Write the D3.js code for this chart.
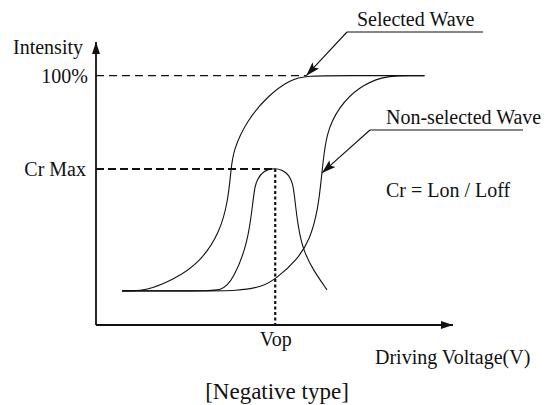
<!DOCTYPE html>
<html>
<head>
<meta charset="utf-8">
<script src="https://cdn.jsdelivr.net/npm/d3@7"></script>
<style>
  html, body { margin: 0; padding: 0; background: #fff; }
  svg text { font-family: "Liberation Serif", "Times New Roman", serif; fill: #111; }
</style>
</head>
<body>
<svg id="chart" width="552" height="405"></svg>
<script>
// ---- Data (schematic units: voltage 0..100, intensity 0..113.5) ----
const selectedWaveV = [7.3, 10.0, 13.7, 21.6, 29.1, 34.7, 37.0, 37.8, 38.4, 42.3, 47.9, 54.3, 59.0, 70.0, 92.0];
const selectedWaveI = [13.7, 13.7, 13.7, 18.0, 25.0, 37.0, 50.0, 62.0, 70.0, 82.0, 91.6, 98.4, 100, 100, 100];

const nonSelectedWaveV = [7.3, 30.0, 39.5, 46.8, 50.7, 56.3, 59.9, 62.2, 63.3, 64.4, 68.1, 73.7, 80.4, 84.9, 88.0, 92.0];
const nonSelectedWaveI = [13.7, 13.7, 13.7, 15.3, 18.9, 26.1, 34.1, 46.2, 61.0, 77.1, 87.6, 95.6, 99.6, 100, 100, 100];

const contrastV = [7.3, 30.0, 35.3, 38.4, 42.6, 44.0, 44.5, 45.1, 46.8, 50.2, 53.5, 55.2, 55.7, 56.6, 58.0, 60.8, 64.7];
const contrastI = [13.7, 13.7, 13.7, 18.1, 32.9, 50.2, 55.4, 58.2, 61.8, 63.2, 61.4, 57.0, 50.2, 39.4, 30.1, 22.1, 14.1];

const yTickValues = [100, 62.6];
const yTickLabels = ["100%", "Cr Max"];
const xTickValues = [50.2];
const xTickLabels = ["Vop"];
const vop = 50.2, crMax = 62.6;
const fullIntensityV = 58.9;   // where the selected wave reaches 100%

const annotationLabels = ["Selected Wave", "Non-selected Wave"];
const annotationTargetV = [58.9, 63.3];
const annotationTargetI = [100, 61.0];

const yAxisTitle = "Intensity";
const xAxisTitle = "Driving Voltage(V)";
const formulaText = "Cr = Lon / Loff";
const captionText = "[Negative type]";

// ---- Scales ----
const svg = d3.select("#chart");
const x = d3.scaleLinear().domain([0, 100]).range([96, 453]);
const y = d3.scaleLinear().domain([0, 113.5]).range([325, 42]);

const defs = svg.append("defs");
defs.append("marker").attr("id", "arrow")
  .attr("viewBox", "-14 -6 16 12").attr("refX", 0).attr("refY", 0)
  .attr("markerUnits", "userSpaceOnUse")
  .attr("markerWidth", 16).attr("markerHeight", 12)
  .attr("orient", "auto")
  .append("path").attr("d", "M0,0L-14,-4.5L-11,0L-14,4.5Z").attr("fill", "#111");
defs.append("marker").attr("id", "axisArrow")
  .attr("viewBox", "-12 -5 13 10").attr("refX", 0).attr("refY", 0)
  .attr("markerUnits", "userSpaceOnUse")
  .attr("markerWidth", 13).attr("markerHeight", 10)
  .attr("orient", "auto")
  .append("path").attr("d", "M0,0L-12,-4L-12,4Z").attr("fill", "#111");

// ---- Axes ----
const yAxis = d3.axisLeft(y).tickValues(yTickValues)
  .tickFormat((d, i) => yTickLabels[i]).tickSize(0).tickPadding(8);
const gy = svg.append("g").attr("transform", `translate(${x(0)},0)`).call(yAxis);
gy.select(".domain").remove();
gy.selectAll("text").attr("font-size", 20).attr("font-family", "Liberation Serif").attr("fill", "#111")
  .attr("dx", (d, i) => i === 1 ? -2 : 0);

const xAxis = d3.axisBottom(x).tickValues(xTickValues)
  .tickFormat((d, i) => xTickLabels[i]).tickSize(0).tickPadding(7);
const gx = svg.append("g").attr("transform", `translate(0,${y(0)})`).call(xAxis);
gx.select(".domain").remove();
gx.selectAll("text").attr("font-size", 20).attr("font-family", "Liberation Serif").attr("fill", "#111");

svg.append("line").attr("x1", x(0)).attr("y1", y(0)).attr("x2", x(0)).attr("y2", y(113.5))
  .attr("stroke", "#111").attr("stroke-width", 1.8).attr("marker-end", "url(#axisArrow)");
svg.append("line").attr("x1", x(0)).attr("y1", y(0)).attr("x2", x(100)).attr("y2", y(0))
  .attr("stroke", "#111").attr("stroke-width", 1.8).attr("marker-end", "url(#axisArrow)");

// ---- Reference lines ----
svg.append("line").attr("x1", x(0)).attr("x2", x(fullIntensityV)).attr("y1", y(100)).attr("y2", y(100))
  .attr("stroke", "#111").attr("stroke-width", 1.3).attr("stroke-dasharray", "8,5");
svg.append("line").attr("x1", x(0)).attr("x2", x(vop)).attr("y1", y(crMax)).attr("y2", y(crMax))
  .attr("stroke", "#111").attr("stroke-width", 2).attr("stroke-dasharray", "8,4");
svg.append("line").attr("x1", x(vop)).attr("x2", x(vop)).attr("y1", y(crMax)).attr("y2", y(0))
  .attr("stroke", "#111").attr("stroke-width", 2.2).attr("stroke-dasharray", "3,2.5");

// ---- Curves ----
const line = d3.line().x(d => x(d[0])).y(d => y(d[1])).curve(d3.curveBasis);
const series = [
  d3.zip(selectedWaveV, selectedWaveI),
  d3.zip(nonSelectedWaveV, nonSelectedWaveI),
  d3.zip(contrastV, contrastI)
];
svg.selectAll("path.curve").data(series).join("path").attr("class", "curve")
  .attr("d", line).attr("fill", "none").attr("stroke", "#111").attr("stroke-width", 1.1);

// ---- Annotations ----
const annLayout = [
  { lx1: 347, lx2: 483, ly: 32, tx: 357, ty: 26 },
  { lx1: 370, lx2: 523, ly: 130, tx: 386, ty: 124 }
];
annotationLabels.forEach((lab, i) => {
  const L = annLayout[i];
  svg.append("line").attr("x1", L.lx1).attr("x2", L.lx2).attr("y1", L.ly).attr("y2", L.ly)
    .attr("stroke", "#111").attr("stroke-width", 1.2);
  svg.append("line").attr("x1", L.lx1).attr("y1", L.ly)
    .attr("x2", x(annotationTargetV[i])).attr("y2", y(annotationTargetI[i]))
    .attr("stroke", "#111").attr("stroke-width", 1.1).attr("marker-end", "url(#arrow)");
  svg.append("text").attr("x", L.tx).attr("y", L.ty).attr("font-size", 20).text(lab);
});

// ---- Titles ----
svg.append("text").attr("x", 13).attr("y", 54).attr("font-size", 20).text(yAxisTitle);
svg.append("text").attr("x", 375).attr("y", 364).attr("font-size", 20).text(xAxisTitle);
svg.append("text").attr("x", 386).attr("y", 197).attr("font-size", 20).text(formulaText);
svg.append("text").attr("x", 277).attr("y", 399).attr("font-size", 23).attr("text-anchor", "middle").text(captionText);
</script>
</body>
</html>
